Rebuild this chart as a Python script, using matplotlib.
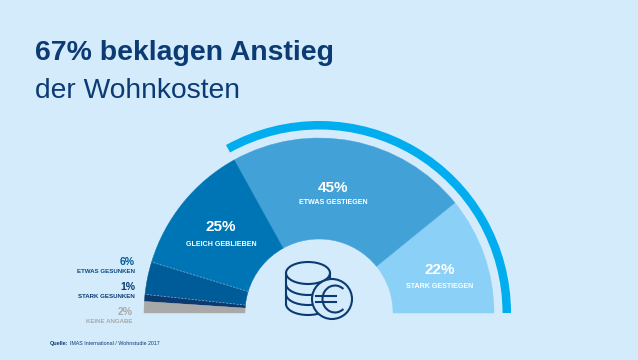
#!/usr/bin/env python3
import matplotlib

matplotlib.use("Agg")
import matplotlib.pyplot as plt
import numpy as np
from matplotlib.patches import Arc, Circle, Ellipse, Wedge

# shares from the right (0 deg) round to the left (180 deg)
labels = ["STARK GESTIEGEN", "ETWAS GESTIEGEN", "GLEICH GEBLIEBEN",
          "ETWAS GESUNKEN", "STARK GESUNKEN", "KEINE ANGABE"]
shares = [22, 45, 25, 6, 1, 2]
# unrounded shares (printed ones add up to 101)
drawn_shares = [21.7, 44.4, 24.5, 6.0, 1.3, 2.1]
colors = ["#8BD0F6", "#42A2D8", "#0075B5", "#005B99", "#0A3A70", "#A9A9A9"]

BG = "#D3EBFB"
NAVY = "#0C3B73"
BAND = "#00ADEE"
CX, CY = 319, 47  # pixel coords, y up
R_OUT, R_IN = 175, 74

fig = plt.figure(figsize=(6.38, 3.6), dpi=100, facecolor=BG)
ax = fig.add_axes([0, 0, 1, 1])
ax.set_xlim(0, 638)
ax.set_ylim(0, 360)
ax.axis("off")
plt.rcParams["font.family"] = ["Liberation Sans", "DejaVu Sans"]

# half ring
edges = np.cumsum([0] + drawn_shares) * 180 / sum(drawn_shares)
for i, share in enumerate(drawn_shares):
    ax.add_patch(Wedge((CX, CY), R_OUT, edges[i], edges[i + 1], width=R_OUT - R_IN,
                       facecolor=colors[i], edgecolor=colors[i], linewidth=0.3))

# thin dashed separators in the falling part
for a in edges[3:5]:
    t = np.radians(a)
    ax.plot([CX + R_IN * np.cos(t), CX + R_OUT * np.cos(t)],
            [CY + R_IN * np.sin(t), CY + R_OUT * np.sin(t)],
            color="#7FB8DE", lw=0.5, ls=(0, (3, 2)))

# outer band marks the 67 %
ax.add_patch(Wedge((CX, CY), 192, 0, edges[2], width=8.5, facecolor=BAND, edgecolor="none"))

# coin stack
ICON_LW = 1.5
ax.add_patch(Ellipse((308, 87), 44, 22, facecolor="none", edgecolor=NAVY, lw=ICON_LW))
for yc in [76, 66, 56]:
    ax.add_patch(Arc((308, yc), 44, 22, theta1=180, theta2=360, color=NAVY, lw=ICON_LW))
ax.plot([286, 286], [87, 56], color=NAVY, lw=ICON_LW)
ax.plot([330, 330], [87, 76], color=NAVY, lw=ICON_LW)
ax.add_patch(Circle((332, 61), 20, facecolor=BG, edgecolor=NAVY, lw=ICON_LW, zorder=3))
ax.add_patch(Arc((335, 61), 25, 27, theta1=50, theta2=310, color=NAVY, lw=ICON_LW, zorder=4))
ax.plot([316, 336], [64, 64], color=NAVY, lw=ICON_LW, zorder=4)
ax.plot([316, 336], [58, 58], color=NAVY, lw=ICON_LW, zorder=4)

# title
ax.text(35, 300, "67% beklagen Anstieg", color=NAVY, fontsize=20.4, fontweight="bold", va="baseline")
ax.text(35, 262, "der Wohnkosten", color=NAVY, fontsize=20.3, va="baseline")

# labels inside the ring
ax.text(333, 168, f"{shares[1]}%", color="white", fontsize=11, fontweight="bold", ha="center", va="baseline")
ax.text(333, 156, labels[1], color="white", fontsize=5.1, fontweight="bold", ha="center", va="baseline")
ax.text(221, 129, f"{shares[2]}%", color="white", fontsize=11, fontweight="bold", ha="center", va="baseline")
ax.text(221, 114, labels[2], color="white", fontsize=5.1, fontweight="bold", ha="center", va="baseline")
ax.text(440, 86, f"{shares[0]}%", color="white", fontsize=11, fontweight="bold", ha="center", va="baseline")
ax.text(440, 72, labels[0], color="white", fontsize=5.1, fontweight="bold", ha="center", va="baseline")

# labels left of the ring
ax.text(135, 95, f"{shares[3]}%", color="#005B99", fontsize=7.5, fontweight="bold", ha="right", va="baseline")
ax.text(135, 87, labels[3], color="#0A4A85", fontsize=4.4, fontweight="bold", ha="right", va="baseline")
ax.text(135, 70, f"{shares[4]}%", color=NAVY, fontsize=7.5, fontweight="bold", ha="right", va="baseline")
ax.text(135, 62, labels[4], color=NAVY, fontsize=4.4, fontweight="bold", ha="right", va="baseline")
ax.text(133, 45, f"{shares[5]}%", color="#A9A9A9", fontsize=7.5, fontweight="bold", ha="right", va="baseline")
ax.text(133, 37, labels[5], color="#A9A9A9", fontsize=4.4, fontweight="bold", ha="right", va="baseline")

# source
ax.text(50, 15, "Quelle:", color=NAVY, fontsize=3.9, fontweight="bold", va="baseline")
ax.text(70, 15, "IMAS International / Wohnstudie 2017", color=NAVY, fontsize=3.8, va="baseline")

fig.savefig("out.png", dpi=100, facecolor=BG)
